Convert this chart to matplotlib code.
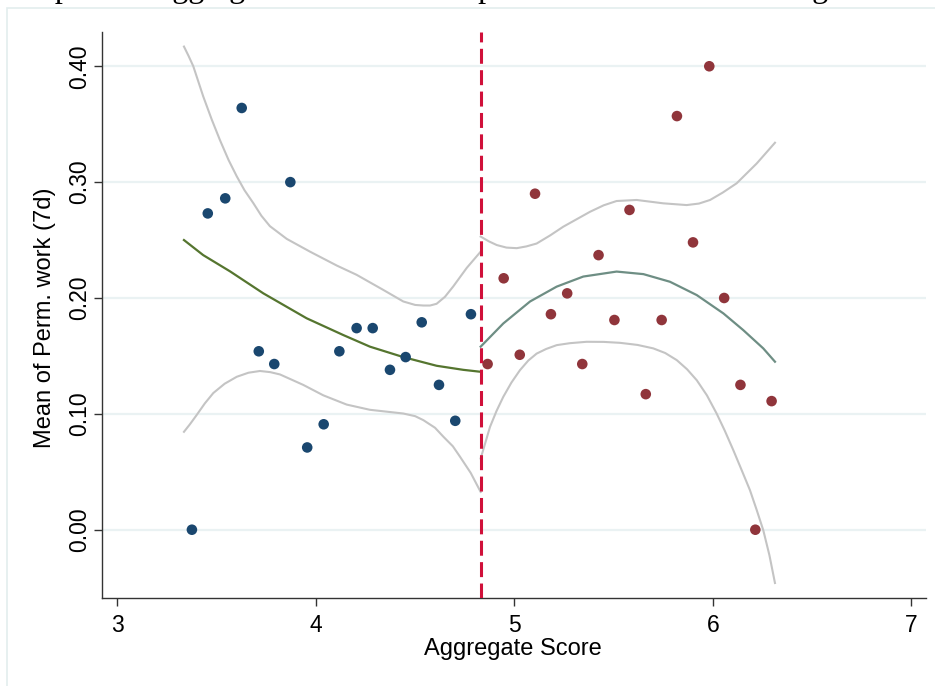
import matplotlib
matplotlib.use("Agg")
import matplotlib.pyplot as plt
from matplotlib.patches import Rectangle

# ---------------- data ----------------
cutoff = 4.83

left_x = [3.375, 3.455, 3.543, 3.626, 3.712, 3.790, 3.871, 3.956, 4.039,
          4.118, 4.205, 4.286, 4.373, 4.452, 4.533, 4.620, 4.702, 4.781]
left_y = [0.000, 0.273, 0.286, 0.364, 0.154, 0.143, 0.300, 0.071, 0.091,
          0.154, 0.174, 0.174, 0.138, 0.149, 0.179, 0.125, 0.094, 0.186]

right_x = [4.865, 4.946, 5.027, 5.104, 5.184, 5.266, 5.342, 5.424, 5.504, 5.580,
           5.662, 5.742, 5.819, 5.900, 5.982, 6.057, 6.139, 6.214, 6.296]
right_y = [0.143, 0.217, 0.151, 0.290, 0.186, 0.204, 0.143, 0.237, 0.181, 0.276,
           0.117, 0.181, 0.357, 0.248, 0.400, 0.200, 0.125, 0.000, 0.111]

# fitted curve (left of cutoff)
lfit_x = [3.335, 3.432, 3.567, 3.735, 3.953, 4.138, 4.272, 4.440, 4.608, 4.742, 4.83]
lfit_y = [0.250, 0.237, 0.223, 0.204, 0.1825, 0.168, 0.158, 0.149, 0.1415, 0.138, 0.1363]

lhi_x = [3.335, 3.358, 3.382, 3.432, 3.475, 3.517, 3.560, 3.601, 3.640, 3.684,
         3.725, 3.768, 3.853, 3.970, 4.105, 4.205, 4.339, 4.440, 4.500, 4.541,
         4.575, 4.608, 4.650, 4.692, 4.760, 4.83]
lhi_y = [0.417, 0.409, 0.400, 0.374, 0.354, 0.336, 0.319, 0.305, 0.293, 0.282,
         0.271, 0.262, 0.251, 0.240, 0.228, 0.220, 0.207, 0.197, 0.194, 0.1935,
         0.1935, 0.195, 0.201, 0.210, 0.226, 0.240]

llo_x = [3.335, 3.365, 3.399, 3.440, 3.483, 3.540, 3.601, 3.660, 3.718, 3.770,
         3.819, 3.936, 4.037, 4.155, 4.272, 4.440, 4.500, 4.541, 4.600, 4.642,
         4.690, 4.726, 4.780, 4.83]
llo_y = [0.0845, 0.091, 0.099, 0.109, 0.118, 0.126, 0.132, 0.1355, 0.137, 0.136,
         0.134, 0.125, 0.116, 0.108, 0.1035, 0.1003, 0.098, 0.0946, 0.088, 0.0803,
         0.072, 0.063, 0.049, 0.0326]

# fitted curve (right of cutoff)
rfit_x = [4.83, 4.944, 5.079, 5.213, 5.347, 5.515, 5.650, 5.784, 5.919, 6.053,
          6.153, 6.254, 6.313]
rfit_y = [0.158, 0.178, 0.197, 0.2098, 0.2185, 0.2228, 0.2206, 0.214, 0.2025, 0.1867,
          0.1723, 0.1565, 0.145]

rhi_x = [4.83, 4.870, 4.911, 4.960, 5.012, 5.060, 5.112, 5.180, 5.246, 5.381,
         5.450, 5.515, 5.616, 5.750, 5.868, 5.930, 5.986, 6.050, 6.120, 6.221, 6.313]
rhi_y = [0.253, 0.249, 0.2457, 0.2435, 0.243, 0.2445, 0.247, 0.254, 0.2615, 0.2744,
         0.2800, 0.2837, 0.2846, 0.2817, 0.2802, 0.2815, 0.2846, 0.291, 0.2990, 0.3161, 0.334]

rlo_x = [4.83, 4.850, 4.877, 4.910, 4.944, 4.985, 5.028, 5.070, 5.112, 5.160,
         5.213, 5.280, 5.364, 5.450, 5.532, 5.620, 5.700, 5.760, 5.818, 5.870,
         5.919, 5.970, 6.019, 6.060, 6.103, 6.145, 6.187, 6.220, 6.254, 6.285, 6.313]
rlo_y = [0.0615, 0.073, 0.0887, 0.1025, 0.1147, 0.127, 0.1377, 0.146, 0.152, 0.156,
         0.1593, 0.161, 0.1622, 0.1621, 0.1613, 0.1595, 0.1565, 0.1525, 0.1464, 0.1385,
         0.129, 0.116, 0.1003, 0.0855, 0.0687, 0.0515, 0.0341, 0.0175, -0.0004, -0.022, -0.046]

xticks = [3, 4, 5, 6, 7]
yticks = [0.0, 0.1, 0.2, 0.3, 0.4]
ytick_labels = ["0.00", "0.10", "0.20", "0.30", "0.40"]

# ---------------- style ----------------
NAVY = "#1a476f"
MAROON = "#90353b"
GREEN = "#55752f"
TEAL = "#6e8e84"
CI = "#c4c4c4"
CUT = "#d0103a"
GRID = "#eaf2f3"

plt.rcParams["font.family"] = ["Liberation Sans", "DejaVu Sans"]

fig = plt.figure(figsize=(9.35, 6.86), dpi=100)
fig.patch.set_facecolor("white")

# faint graph-region border
fig.patches.append(Rectangle((7 / 935, -0.1), 1.2, (686 - 8) / 686 + 0.1,
                             transform=fig.transFigure, fill=False,
                             edgecolor="#e3edee", linewidth=1.2, zorder=0))

# cropped caption at the very top (only descenders visible)
fig.text(7 / 935, 1 + 3.5 / 686,
         "Graph: the Aggregate Score and RD plot with the cutoff at margin",
         family="Liberation Serif", fontsize=23, va="baseline", ha="left",
         color="black")

ax = fig.add_axes([102 / 935, (686 - 597.5) / 686, (926 - 102) / 935, (597.5 - 31.5) / 686])
ax.set_xlim(2.922, 7.074)
ax.set_ylim(-0.0585, 0.430)

for y in yticks:
    ax.axhline(y, color=GRID, lw=1.6, zorder=0)

ax.plot(lhi_x, lhi_y, color=CI, lw=1.5, zorder=2)
ax.plot(llo_x, llo_y, color=CI, lw=1.5, zorder=2)
ax.plot(rhi_x, rhi_y, color=CI, lw=1.5, zorder=2)
ax.plot(rlo_x, rlo_y, color=CI, lw=1.5, zorder=2)
ax.plot(lfit_x, lfit_y, color=GREEN, lw=1.6, zorder=3)
ax.plot(rfit_x, rfit_y, color=TEAL, lw=1.6, zorder=3)

ax.scatter(left_x, left_y, s=58, color=NAVY, edgecolors="none", zorder=4)
ax.scatter(right_x, right_y, s=58, color=MAROON, edgecolors="none", zorder=4)

ax.axvline(cutoff, color=CUT, lw=2.2, dashes=(4.9, 2.1), zorder=5)

for side in ["top", "right"]:
    ax.spines[side].set_visible(False)
for side in ["left", "bottom"]:
    ax.spines[side].set_color("#333333")
    ax.spines[side].set_linewidth(1.0)

ax.set_xticks(xticks)
ax.set_yticks(yticks)
ax.set_yticklabels(ytick_labels, rotation=90, va="center")
ax.tick_params(axis="both", direction="out", length=6, width=1.0,
               color="#333333", labelsize=16.5)
ax.tick_params(axis="x", pad=6)
ax.tick_params(axis="y", pad=2)
ax.set_xlabel("Aggregate Score", fontsize=17)
ax.set_ylabel("Mean of Perm. work (7d)", fontsize=17)
# place axis titles where the reference has them
ax.xaxis.set_label_coords((513 - 102) / 824, -(649 - 597.5) / 566, transform=None) if False else None
ax.xaxis.set_label_coords((513 - 102) / 824, -(649 - 597.5) / 566)
ax.xaxis.label.set_va("center")
ax.yaxis.set_label_coords(-(102 - 45) / 824, (597.5 - 318) / 566)
ax.yaxis.label.set_va("center")

fig.savefig("out.png", dpi=100)
